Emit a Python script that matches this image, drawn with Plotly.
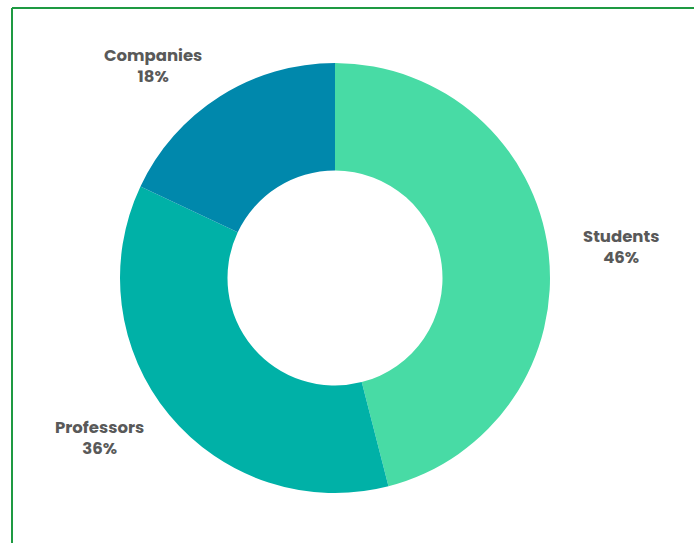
import plotly.graph_objects as go

labels = ["Students", "Professors", "Companies"]
values = [46, 36, 18]
colors = ["#48DBA5", "#00B1A7", "#0088AC"]

W, H = 694, 543
cx, cy, R = 335, 278, 215  # pixel center/radius (from top)
# label centre positions in pixels (layout only)
label_pos = [(621, 247), (99, 438), (153, 66)]

fig = go.Figure(go.Pie(
    labels=labels, values=values, hole=0.5, sort=False,
    direction="clockwise", rotation=0,
    marker=dict(colors=colors, line=dict(width=0)),
    textinfo="none", hoverinfo="label+percent", showlegend=False,
    domain=dict(x=[(cx - R) / W, (cx + R) / W], y=[(H - cy - R) / H, (H - cy + R) / H]),
))

total = sum(values)
annotations = []
for lab, v, (px, py) in zip(labels, values, label_pos):
    annotations.append(dict(
        x=px / W, y=(H - py) / H, xref="paper", yref="paper",
        text=f"{lab}<br>{round(v / total * 100)}%", showarrow=False,
        font=dict(family="Poppins, 'Open Sans', sans-serif", size=16.5, color="#595959", weight="bold"),
        align="center", xanchor="center", yanchor="middle",
    ))

shapes = [
    dict(type="line", xref="paper", yref="paper", x0=12 / W, x1=1, y0=(H - 8) / H, y1=(H - 8) / H,
         line=dict(color="#1E9A42", width=2)),
    dict(type="line", xref="paper", yref="paper", x0=12 / W, x1=12 / W, y0=0, y1=(H - 8) / H,
         line=dict(color="#1E9A42", width=2)),
]

fig.update_layout(
    width=W, height=H, margin=dict(l=0, r=0, t=0, b=0),
    paper_bgcolor="white", plot_bgcolor="white",
    annotations=annotations, shapes=shapes,
)
fig.write_html("out.html")
